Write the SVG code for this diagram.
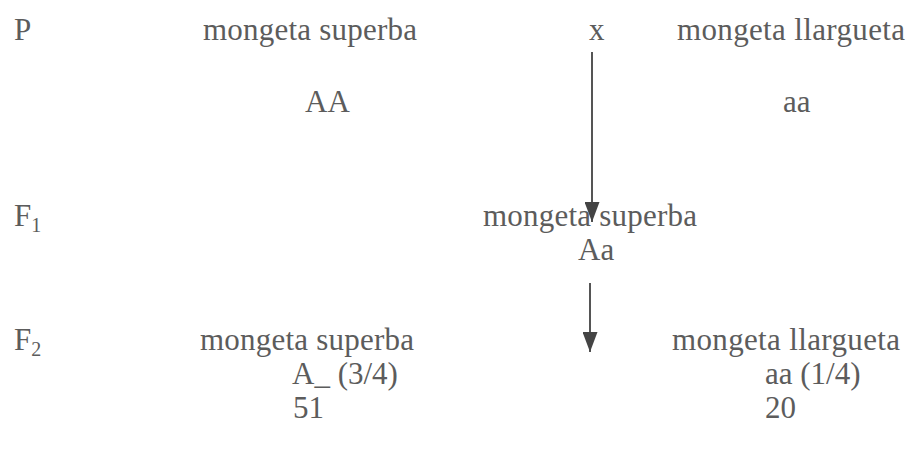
<svg xmlns="http://www.w3.org/2000/svg" width="911" height="450" viewBox="0 0 911 450">
<defs>
<style>
text{font-family:'Liberation Serif','Times New Roman','DejaVu Serif',serif;font-size:31px;fill:#5c5c5c}
.sub{font-size:20px}
.conn line{stroke:#555;stroke-width:2}
</style>
<marker id="ah" markerWidth="20" markerHeight="15" refX="20" refY="7.5" orient="auto" markerUnits="userSpaceOnUse" viewBox="0 0 20 15">
<path d="M0,0 L20,7.5 L0,15 Z" fill="#444"/>
</marker>
</defs>
<rect width="911" height="450" fill="#fff"/>
<g id="labels">
<text x="14" y="40">P</text>
<text x="14" y="226">F<tspan class="sub" dy="6">1</tspan></text>
<text x="14" y="350">F<tspan class="sub" dy="6">2</tspan></text>
</g>
<g id="p-superba"><text x="203" y="40" textLength="214">mongeta superba</text><text x="305" y="112">AA</text></g>
<g id="cross"><text x="589" y="40">x</text></g>
<g id="p-llargueta"><text x="677" y="40" textLength="228">mongeta llargueta</text><text x="783" y="112">aa</text></g>
<g id="f1"><text x="483" y="226" textLength="214">mongeta superba</text><text x="578" y="260">Aa</text></g>
<g id="f2-superba"><text x="200" y="350" textLength="214">mongeta superba</text><text x="292" y="384">A_ (3/4)</text><text x="293" y="418">51</text></g>
<g id="f2-llargueta"><text x="672" y="350" textLength="228">mongeta llargueta</text><text x="765" y="384">aa (1/4)</text><text x="765" y="418">20</text></g>
<g class="conn" id="connectors">
<line x1="592" y1="52" x2="592" y2="222" marker-end="url(#ah)"/>
<line x1="590" y1="283" x2="590" y2="352" marker-end="url(#ah)"/>
</g>
</svg>
